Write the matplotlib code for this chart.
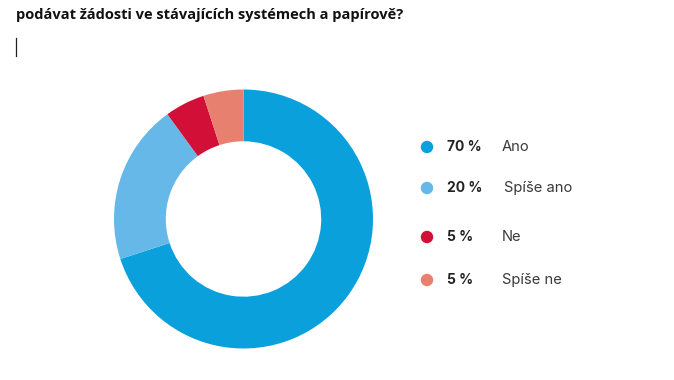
import matplotlib
matplotlib.use('Agg')
import matplotlib.pyplot as plt

# Chart data
labels = ['Ano', 'Spíše ano', 'Ne', 'Spíše ne']
values = [70, 20, 5, 5]
colors = ['#0aa0dc', '#66b8e8', '#d20f37', '#e88070']
title = 'podávat žádosti ve stávajících systémech a papírově?'

W, H = 674, 380
fig = plt.figure(figsize=(W / 100, H / 100), dpi=100)
fig.patch.set_facecolor('white')

# Donut
cx, cy, r = 243.5, 219, 129.5
ax = fig.add_axes([(cx - r) / W, (H - cy - r) / H, 2 * r / W, 2 * r / H])
ax.pie(values, colors=colors, startangle=90, counterclock=False, radius=1,
       wedgeprops=dict(width=0.4, edgecolor='none'))
ax.set_xlim(-1, 1)
ax.set_ylim(-1, 1)
ax.set_aspect('equal')
ax.axis('off')

# Overlay in pixel coordinates for title and legend
ov = fig.add_axes([0, 0, 1, 1])
ov.set_xlim(0, W)
ov.set_ylim(H, 0)
ov.axis('off')

ov.text(16, 14.5, title, fontsize=10.5, fontweight='bold', family='Open Sans',
        va='center', ha='left', color='#111111')
# text cursor mark
ov.plot([15.5, 15.5], [38, 56], color='#222222', lw=0.9)

leg_y = [147, 188, 237, 280]
label_x = [502, 504, 502, 502]
for i in range(len(labels)):
    ov.scatter(427, leg_y[i], s=80, color=colors[i], edgecolors='none')
    ov.text(447, leg_y[i], f'{values[i]} %', fontsize=10, fontweight='bold',
            family='Inter', va='center', ha='left', color='#222222')
    ov.text(label_x[i], leg_y[i], labels[i], fontsize=10.6, family='Inter',
            va='center', ha='left', color='#3a3a3a')

fig.savefig('out.png', dpi=100)
